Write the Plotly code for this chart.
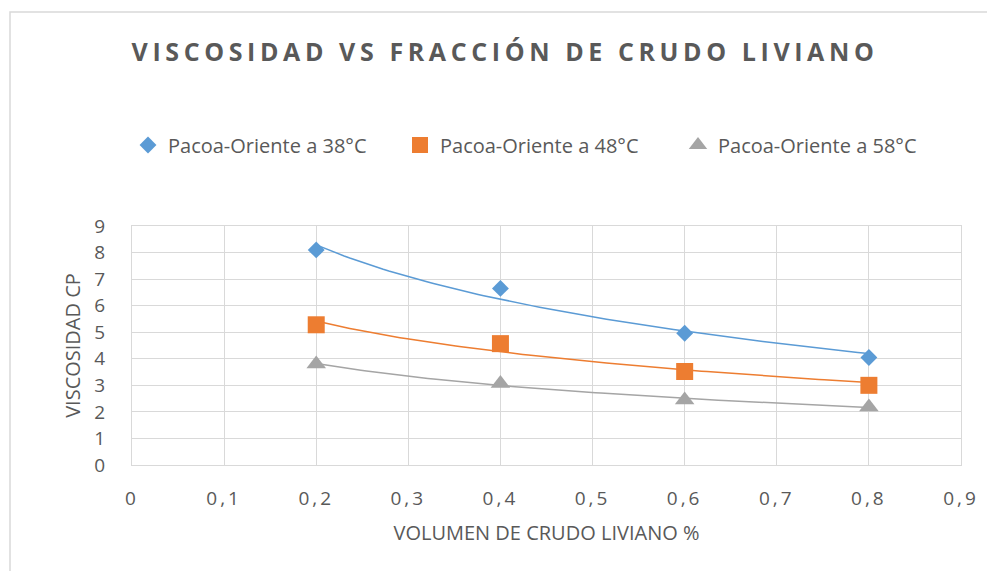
import numpy as np
import plotly.graph_objects as go

x_vals = [0.2, 0.4, 0.6, 0.8]
visc_38 = [8.1, 6.65, 4.96, 4.05]
visc_48 = [5.28, 4.57, 3.52, 3.0]
visc_58 = [3.8, 3.07, 2.45, 2.18]
series_names = ["Pacoa-Oriente a 38°C", "Pacoa-Oriente a 48°C", "Pacoa-Oriente a 58°C"]
x_ticks = [0, 0.1, 0.2, 0.3, 0.4, 0.5, 0.6, 0.7, 0.8, 0.9]
x_tick_labels = ["0", "0,1", "0,2", "0,3", "0,4", "0,5", "0,6", "0,7", "0,8", "0,9"]
y_ticks = list(range(0, 10))

colors = ["#5B9BD5", "#ED7D31", "#A5A5A5"]
symbols = ["diamond", "square", "triangle-up"]
sizes = [13, 17, 17]
FONT = "Open Sans"
GRAY = "#595959"

# page offset (body margin of the html page)
OFF = 8
W, H = 995 - OFF, 571 - OFF
PL, PR, PT, PB = 132, 961, 226, 465  # plot area in page pixels
pw, ph = PR - PL, PB - PT


def px(xpage):
    return (xpage - PL) / pw


def py(ypage):
    return (PB - ypage) / ph


legend_names = ["legend", "legend2", "legend3"]
legend_sym_x = [148, 420, 698]

fig = go.Figure()
xs = np.array(x_vals)
for name, ys, c, s, sz, lg in zip(series_names, [visc_38, visc_48, visc_58], colors, symbols, sizes, legend_names):
    ys = np.array(ys)
    # logarithmic trendline (Excel-style) fitted on the data
    b, a = np.polyfit(np.log(xs), ys, 1)
    xf = np.linspace(xs.min(), xs.max(), 100)
    yf = a + b * np.log(xf)
    fig.add_trace(go.Scatter(x=xf, y=yf, mode="lines", line=dict(color=c, width=1.5),
                             showlegend=False, hoverinfo="skip"))
    fig.add_trace(go.Scatter(x=xs, y=ys, mode="markers", name=name, legend=lg,
                             marker=dict(symbol=s, size=sz, color=c, line=dict(width=0))))

legend_common = dict(orientation="h", xanchor="left", yanchor="middle",
                     font=dict(size=20, color=GRAY, family=FONT), itemsizing="trace",
                     bgcolor="rgba(0,0,0,0)", borderwidth=0)
legends = {}
for lg, sx in zip(legend_names, legend_sym_x):
    legends[lg] = dict(legend_common, x=px(sx - 20), y=py(145))

fig.update_layout(
    width=W, height=H,
    margin=dict(l=PL - OFF, r=W - (PR - OFF), t=PT - OFF, b=H - (PB - OFF)),
    paper_bgcolor="white", plot_bgcolor="white",
    font=dict(family=FONT, color=GRAY, size=19),
    showlegend=True,
    **legends,
    xaxis=dict(range=[0, 0.9], tickvals=x_ticks, ticktext=x_tick_labels,
               showgrid=True, gridcolor="#D9D9D9", gridwidth=1, zeroline=False,
               showline=True, linecolor="#D9D9D9", mirror=True,
               ticks="", tickfont=dict(size=19, color=GRAY), ticklabelstandoff=16,
               title=dict(text="VOLUMEN DE CRUDO LIVIANO %", font=dict(size=20, color=GRAY), standoff=16)),
    yaxis=dict(range=[0, 9], tickvals=y_ticks,
               showgrid=True, gridcolor="#D9D9D9", gridwidth=1, zeroline=False,
               showline=True, linecolor="#D9D9D9", mirror=True,
               ticks="", tickfont=dict(size=19, color=GRAY), ticklabelstandoff=22,
               title=dict(text="VISCOSIDAD CP", font=dict(size=20, color=GRAY), standoff=8)),
    title=dict(text="<b>VISCOSIDAD VS FRACCIÓN DE CRUDO LIVIANO</b>",
               x=(505 - OFF) / W, xanchor="center", y=1 - (52 - OFF) / H, yanchor="middle",
               font=dict(size=25, color=GRAY, family=FONT)),
    shapes=[dict(type="rect", xref="paper", yref="paper",
                 x0=px(10), x1=px(1100), y0=py(700), y1=py(12),
                 line=dict(color="#D9D9D9", width=1.5), fillcolor="rgba(0,0,0,0)", layer="below")],
)

post = """
var gd = document.getElementById('{plot_id}');
function ls(){
  gd.querySelectorAll('.gtitle').forEach(function(e){ e.style.letterSpacing = '4.6px'; });
  gd.querySelectorAll('.xtick text').forEach(function(e){ e.style.letterSpacing = '3px'; });
}
ls();
gd.on('plotly_afterplot', ls);
"""

fig.write_html("out.html", post_script=post)
